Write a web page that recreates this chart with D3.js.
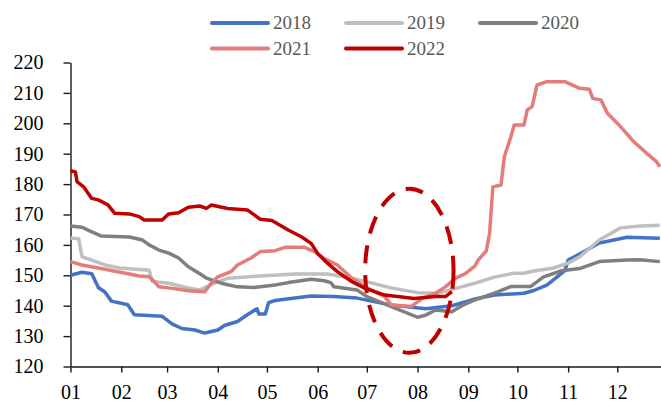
<!DOCTYPE html>
<html>
<head>
<meta charset="utf-8">
<script src="https://cdn.jsdelivr.net/npm/d3@7"></script>
<style>
	body { margin: 0; background: #fff; }
	svg { display: block; font-family: "Liberation Serif", "Times New Roman", serif; }
</style>
</head>
<body>
<svg width="661" height="402"></svg>
<script>
	// month-day, value
	var s2018 = [["01-01",150],["01-08",151],["01-14",150.5],["01-18",146],["01-22",144.5],["01-26",141.5],["02-05",140.3],["02-09",137],["02-26",136.5],["03-04",134],["03-10",132.5],["03-18",132],["03-24",131],["04-01",132],["04-05",133.5],["04-13",134.8],["04-19",137],["04-25",139],["04-26",137.3],["04-30",137.3],["05-02",141],["05-06",141.7],["05-18",142.5],["05-28",143.2],["06-11",143],["06-25",142.5],["07-16",140.2],["08-06",139],["08-22",140],["08-30",141.2],["09-05",142.2],["09-17",143.5],["10-05",144.1],["10-11",145],["10-19",146.8],["10-30",151.5],["11-01",155],["11-08",157],["11-20",160.6],["12-07",162.5],["12-27",162.2]];
	var s2019 = [["01-01",162.3],["01-06",162],["01-08",156.1],["01-14",155],["01-22",153.4],["01-31",152.4],["02-18",151.7],["02-20",148],["03-02",147.4],["03-14",145.8],["03-21",145.2],["03-30",147.4],["04-07",149],["04-27",149.8],["05-18",150.4],["06-07",150.4],["06-17",149.5],["06-30",148],["07-16",145.8],["08-01",144.3],["08-13",144.1],["08-25",145.8],["09-05",147.4],["09-17",149.4],["09-29",150.7],["10-05",150.7],["10-11",151.4],["10-23",152.4],["11-01",154],["11-08",156.1],["11-20",161.6],["12-03",165.6],["12-15",166.2],["12-27",166.5]];
	var s2020 = [["01-01",166.2],["01-08",165.8],["01-14",164.3],["01-20",162.9],["02-06",162.6],["02-14",161.6],["02-18",160],["02-24",158.3],["03-02",157.3],["03-08",155.7],["03-14",152.8],["03-21",150.5],["03-25",149.1],["04-03",147.4],["04-13",146.2],["04-23",146],["05-06",146.8],["05-14",147.6],["05-28",148.7],["06-05",148.2],["06-09",147.6],["06-11",146.2],["06-25",145.2],["07-01",143],["07-16",139.7],["08-01",136.2],["08-06",136.9],["08-12",138.6],["08-22",138],["08-28",140],["09-05",141.9],["09-17",144.1],["09-27",146.3],["10-09",146.3],["10-17",149.5],["10-28",151.5],["11-08",152.2],["11-20",154.5],["12-07",155],["12-15",155.1],["12-27",154.5]];
	var s2021 = [["01-01",154.5],["01-08",153.4],["01-22",152],["02-06",150.4],["02-12",149.8],["02-18",149.5],["02-21",148],["02-24",146.2],["03-04",145.7],["03-14",144.9],["03-24",144.6],["03-28",147.4],["04-01",149.5],["04-09",151.2],["04-13",153.4],["04-21",155.6],["04-27",157.8],["05-06",158.1],["05-12",159.2],["05-24",159.2],["05-30",157.8],["06-05",155.5],["06-13",153.4],["06-22",149],["06-30",146.2],["07-12",143],["07-16",140.2],["07-28",139.7],["08-04",142.4],["08-12",144.1],["08-18",146.2],["08-24",149],["08-30",150.5],["09-05",153],["09-07",155],["09-12",158],["09-14",163.8],["09-16",179.1],["09-21",179.7],["09-23",189],["09-27",195.6],["09-29",199.4],["10-05",199.4],["10-07",204.4],["10-10",205.5],["10-13",212.6],["10-19",213.7],["10-30",213.7],["11-08",211.5],["11-14",211.2],["11-16",208.2],["11-21",207.7],["11-25",203.3],["12-03",198.9],["12-11",194],["12-19",190.1],["12-25",187.4],["12-27",185.7]];
	var s2022 = [["01-01",184.4],["01-04",184],["01-05",180.8],["01-09",179.1],["01-14",175.3],["01-18",174.8],["01-24",173.1],["01-28",170.4],["02-06",170.2],["02-12",169.3],["02-15",168.2],["02-26",168.2],["03-02",170.2],["03-08",170.6],["03-14",172.4],["03-21",172.8],["03-25",172],["03-28",173.1],["04-07",172],["04-19",171.5],["04-27",168.4],["05-04",168],["05-14",164.9],["05-22",162.7],["05-28",160.5],["06-01",157.2],["06-07",154],["06-13",151.2],["06-22",147.9],["06-30",145.7],["07-12",143.5],["07-30",142.4],["08-12",143],["08-18",143],["08-22",144.6]];

	var seriesNames = ["2018", "2019", "2020", "2021", "2022"];
	var seriesData = [s2018, s2019, s2020, s2021, s2022];
	var colors = ["#4472C4", "#BFBFBF", "#7F7F7F", "#E47C7C", "#C00000"];
	var yTicks = [120, 130, 140, 150, 160, 170, 180, 190, 200, 210, 220];

	// highlighted window (dates, values)
	var markDates = ["06-30", "08-23"];
	var markValues = [124.5, 178.5];

	var parse = d3.timeParse("%Y-%m-%d");
	function dt(md) { return parse("2021-" + md); }

	var svg = d3.select('svg');

	var x = d3.scaleTime()
		.domain([dt("01-01"), parse("2022-01-01")])
		.range([70.5, 668]);
	var y = d3.scaleLinear()
		.domain([120, 220])
		.range([366.5, 62.5]);

	var xAxis = d3.axisBottom(x)
		.tickValues(d3.timeMonths(dt("01-01"), parse("2022-01-01")))
		.tickFormat(d3.timeFormat("%m"))
		.tickSize(6)
		.tickSizeOuter(0)
		.tickPadding(12);
	var yAxis = d3.axisLeft(y)
		.tickValues(yTicks)
		.tickSize(7)
		.tickSizeOuter(0)
		.tickPadding(20);

	var gx = svg.append('g').attr('transform', 'translate(0,366.5)').call(xAxis);
	var gy = svg.append('g').attr('transform', 'translate(70.5,0)').call(yAxis);
	[gx, gy].forEach(function(g) {
		g.selectAll('path, line').attr('stroke', '#1a1a1a').attr('stroke-width', 1.4);
		g.selectAll('text').attr('fill', '#000').style('font-size', '20px')
			.style('font-family', '"Liberation Serif", serif');
	});

	var line = d3.line()
		.x(function(d) { return x(dt(d[0])); })
		.y(function(d) { return y(d[1]); });

	svg.append('g').selectAll('path')
		.data(seriesData)
		.enter().append('path')
			.attr('d', line)
			.attr('fill', 'none')
			.attr('stroke', function(d, i) { return colors[i]; })
			.attr('stroke-width', 3.5)
			.attr('stroke-linejoin', 'round');

	// dashed ellipse
	var ex0 = x(dt(markDates[0])), ex1 = x(dt(markDates[1]));
	var ey0 = y(markValues[1]), ey1 = y(markValues[0]);
	svg.append('ellipse')
		.attr('cx', (ex0 + ex1) / 2)
		.attr('cy', (ey0 + ey1) / 2)
		.attr('rx', (ex1 - ex0) / 2)
		.attr('ry', (ey1 - ey0) / 2)
		.attr('fill', 'none')
		.attr('stroke', '#C00000')
		.attr('stroke-width', 4)
		.attr('stroke-dasharray', '18,12');

	// legend
	var legend = svg.append('g');
	var item = legend.selectAll('g')
		.data(seriesNames)
		.enter().append('g')
			.attr('transform', function(d, i) {
				return 'translate(' + (212 + (i % 3) * 134) + ',' + (23 + Math.floor(i / 3) * 25.5) + ')';
			});
	item.append('line')
		.attr('x1', 0).attr('x2', 56)
		.attr('stroke', function(d, i) { return colors[i]; })
		.attr('stroke-width', 4)
		.attr('stroke-linecap', 'round');
	item.append('text')
		.attr('x', 61)
		.attr('dy', '0.34em')
		.attr('fill', '#595959')
		.style('font-size', '19px')
		.text(function(d) { return d; });
</script>
</body>
</html>
